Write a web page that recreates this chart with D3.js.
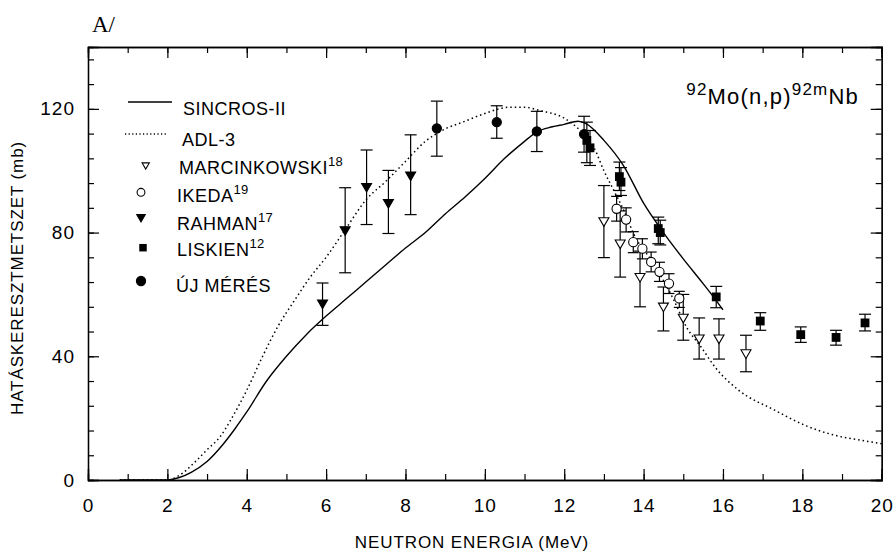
<!DOCTYPE html>
<html>
<head>
<meta charset="utf-8">
<script src="https://cdn.jsdelivr.net/npm/d3@7"></script>
<style>
body{margin:0;background:#fff;}
text{font-family:"Liberation Sans",Arial,Helvetica,sans-serif;fill:#000;}
</style>
</head>
<body>
<div id="chart"></div>
<script>
// curves: [energy MeV, cross section mb]
var sincros = [[0.8,0],[2.0,0],[2.3,0.8],[2.6,2.5],[3.0,6],[3.4,11.5],[3.7,16.5],[4.0,22],[4.5,32],[5.0,40],[5.5,47],[6.0,53],[6.5,58.5],[7.0,64],[7.5,69.5],[8.0,75],[8.5,80],[9.0,86],[9.5,91.5],[10.0,97.5],[10.5,104],[11.0,109.5],[11.3,112.5],[11.7,114.2],[12.0,115],[12.35,116],[12.55,115.2],[13.0,109.8],[13.5,101.5],[14.0,89.5],[14.5,80],[15.0,71.5],[15.5,63.5],[15.76,59.2],[16.0,55]];
var adl3 = [[0.8,0],[2.0,0],[2.3,1.5],[2.75,6.5],[3.0,9.8],[3.33,14],[3.6,19.5],[4.0,29],[4.4,40],[4.8,50],[5.2,58],[5.6,65.6],[6.0,72],[6.5,81.3],[7.0,90.5],[7.5,96.5],[8.0,103],[8.5,109.5],[9.0,113.5],[9.5,116],[10.0,118.5],[10.6,120.5],[11.0,120.5],[11.4,119.4],[12.0,117],[12.4,113],[12.75,107.5],[13.0,100],[13.25,93.6],[13.5,87.2],[13.75,79.6],[14.25,70],[14.75,58.5],[15.1,49],[15.45,43],[15.8,36.5],[16.4,29],[17.3,22.6],[18.1,17.5],[18.9,14.2],[19.5,12.8],[20,11.7]];

// measured points: [energy, value, low, high]
var marcinkowski = [[13.0,83.4,71.9,95.2],[13.41,76.2,65.6,87],[13.91,65.4,56,74],[14.5,55.8,48.2,62.4],[15.0,52.2,45.2,60],[15.4,45.5,39.1,52.4],[15.9,45.5,39.1,52.1],[16.58,40.7,35,46.8]];
var ikeda = [[13.32,87.7,83.7,91.7],[13.56,84.2,80.2,88],[13.74,76.9,73.5,80.3],[13.97,74.8,71.5,78],[14.19,70.5,67.3,73.7],[14.4,67.3,64.2,70.4],[14.64,63.5,60.3,66.7],[14.9,58.7,55.8,61]];
var rahman = [[5.91,56.8,50,63.7],[6.48,80.5,67,94.5],[7.02,94.5,82.6,106.7],[7.57,89.3,79.7,100.1],[8.13,98.2,85.8,111.6]];
var liskien = [[12.57,109.8,102.6,115.7],[12.65,107.4,101.7,113],[13.39,98.1,93.6,102.8],[13.43,96.3,92,101],[14.37,81.3,76.4,85],[14.42,80,76,84],[15.83,59.2,55.7,62.6],[16.94,51.4,48.4,54.1],[17.96,47,44.5,49.5],[18.85,46.1,43.6,48.4],[19.58,50.8,48.2,53.6]];
var ujMeres = [[8.79,113.7,104.7,122.5],[10.3,115.7,110.5,121],[11.31,112.7,106.2,119.2],[12.5,111.8,106,117.6]];

var xMajor = [0,2,4,6,8,10,12,14,16,18,20];
var xMinor = d3.range(0,21,1);
var yMajor = [0,40,80,120];
var yMinor = d3.range(0,141,8);

var legendItems = [
  {kind:"solid", label:"SINCROS-II", sup:""},
  {kind:"dotted", label:"ADL-3", sup:""},
  {kind:"openTri", label:"MARCINKOWSKI", sup:"18"},
  {kind:"openCircle", label:"IKEDA", sup:"19"},
  {kind:"fillTri", label:"RAHMAN", sup:"17"},
  {kind:"square", label:"LISKIEN", sup:"12"},
  {kind:"fillCircle", label:"ÚJ MÉRÉS", sup:""}
];

var W = 896, H = 553;
var svg = d3.select("#chart").append("svg").attr("width", W).attr("height", H);

var x = d3.scaleLinear().domain([0,20]).range([88,881.7]);
var y = d3.scaleLinear().domain([0,140]).range([480,47]);

/* axes, ticks inward */
function axisG(){ return svg.append("g").attr("class","axis"); }
axisG().attr("transform","translate(0,480)").call(d3.axisBottom(x).tickValues(xMinor).tickSize(-6).tickFormat(""));
axisG().attr("transform","translate(0,480)").call(d3.axisBottom(x).tickValues(xMajor).tickSize(-11).tickPadding(19).tickFormat(d3.format("d")));
axisG().attr("transform","translate(0,47)").call(d3.axisTop(x).tickValues(xMinor).tickSize(-6).tickFormat(""));
axisG().attr("transform","translate(0,47)").call(d3.axisTop(x).tickValues(xMajor).tickSize(-11).tickFormat(""));
axisG().attr("transform","translate(88,0)").call(d3.axisLeft(y).tickValues(yMinor).tickSize(-6).tickFormat(""));
axisG().attr("transform","translate(88,0)").call(d3.axisLeft(y).tickValues(yMajor).tickSize(-11).tickPadding(13).tickFormat(d3.format("d")));
axisG().attr("transform","translate(881.7,0)").call(d3.axisRight(y).tickValues(yMinor).tickSize(-6).tickFormat(""));
axisG().attr("transform","translate(881.7,0)").call(d3.axisRight(y).tickValues(yMajor).tickSize(-11).tickFormat(""));

svg.selectAll(".axis path").attr("stroke","#000").attr("stroke-width",1.3);
svg.selectAll(".axis line").attr("stroke","#000").attr("stroke-width",1.2);
svg.selectAll(".axis text").style("font-family",'"Liberation Sans",Arial,sans-serif').style("font-size","19px").style("letter-spacing","1px").attr("fill","#000");

/* curves */
var line = d3.line().x(d => x(d[0])).y(d => y(d[1])).curve(d3.curveMonotoneX);
svg.append("path").attr("d", line(adl3)).attr("fill","none").attr("stroke","#000")
  .attr("stroke-width",1.5).attr("stroke-dasharray","1.5,3");
svg.append("path").attr("d", line(sincros)).attr("fill","none").attr("stroke","#000").attr("stroke-width",1.4);

/* symbols */
function symbol(g, kind, cx, cy, s){
  s = s || 1;
  if(kind=="openTri" || kind=="fillTri"){
    var w = 5*s, h = 4.3*s;
    g.append("path").attr("d", `M${cx-w},${cy-h}L${cx+w},${cy-h}L${cx},${cy+h}Z`)
      .attr("fill", kind=="fillTri" ? "#000" : "#fff").attr("stroke","#000").attr("stroke-width",1.1);
  } else if(kind=="openCircle" || kind=="fillCircle"){
    g.append("circle").attr("cx",cx).attr("cy",cy).attr("r",4.6*s)
      .attr("fill", kind=="fillCircle" ? "#000" : "#fff").attr("stroke","#000").attr("stroke-width",1.1);
  } else if(kind=="square"){
    var a = 4.4*s;
    g.append("rect").attr("x",cx-a).attr("y",cy-a).attr("width",2*a).attr("height",2*a).attr("fill","#000");
  }
}

function series(data, kind, cap){
  var g = svg.append("g");
  data.forEach(function(d){
    var px = x(d[0]);
    g.append("line").attr("x1",px).attr("x2",px).attr("y1",y(d[2])).attr("y2",y(d[3])).attr("stroke","#000").attr("stroke-width",1.2);
    [d[2],d[3]].forEach(function(v){
      g.append("line").attr("x1",px-cap).attr("x2",px+cap).attr("y1",y(v)).attr("y2",y(v)).attr("stroke","#000").attr("stroke-width",1.2);
    });
  });
  data.forEach(function(d){ symbol(g, kind, x(d[0]), y(d[1]), 1); });
}
series(marcinkowski, "openTri", 6);
series(rahman, "fillTri", 6);
series(liskien, "square", 6);
series(ikeda, "openCircle", 5.5);
series(ujMeres, "fillCircle", 6);

/* legend */
var legY = [108, 139, 167, 195, 223, 249, 285];
var symX = {openTri:145.7, openCircle:141, fillTri:141, square:143, fillCircle:141};
var txtX = [183, 182, 179, 177, 177, 177, 176];
var leg = svg.append("g");
legendItems.forEach(function(it, i){
  var cy = legY[i];
  if(it.kind=="solid"){
    leg.append("line").attr("x1",128).attr("x2",172).attr("y1",cy-6).attr("y2",cy-6).attr("stroke","#000").attr("stroke-width",1.3);
  } else if(it.kind=="dotted"){
    leg.append("line").attr("x1",125).attr("x2",167).attr("y1",cy-5).attr("y2",cy-5).attr("stroke","#000").attr("stroke-width",1.3).attr("stroke-dasharray","1.2,2.4");
  } else {
    var sy = {openTri:166, openCircle:192.3, fillTri:218.3, square:247.7, fillCircle:281}[it.kind];
    symbol(leg, it.kind, symX[it.kind], sy, it.kind=="openTri" ? 0.72 : (it.kind=="fillCircle" ? 1.0 : 0.85));
  }
  var t = leg.append("text").attr("x",txtX[i]).attr("y",cy+6.5)
    .style("font-size","18px").style("letter-spacing","0.5px").text(it.label);
  if(it.sup) t.append("tspan").attr("dy",-8).style("font-size","13px").style("letter-spacing","0.2px").text(it.sup);
});

/* reaction label */
var rl = svg.append("text").attr("x",859).attr("y",104).attr("text-anchor","end").style("font-size","22px").style("letter-spacing","1.2px");
rl.append("tspan").attr("dy",-9).style("font-size","17px").text("92");
rl.append("tspan").attr("dy",9).text("Mo(n,p)");
rl.append("tspan").attr("dy",-9).style("font-size","17px").text("92m");
rl.append("tspan").attr("dy",9).text("Nb");

/* titles */
svg.append("text").attr("x",92).attr("y",32).style("font-family",'"Liberation Serif","Times New Roman",serif').style("font-size","23px").text("A/");
svg.append("text").attr("x",472).attr("y",548).attr("text-anchor","middle").style("font-size","17px").style("letter-spacing","0.9px").text("NEUTRON ENERGIA (MeV)");
svg.append("text").attr("transform","translate(23,278) rotate(-90)").attr("text-anchor","middle").style("font-size","17px").style("letter-spacing","0.9px").text("HATÁSKERESZTMETSZET  (mb)");
</script>
</body>
</html>
